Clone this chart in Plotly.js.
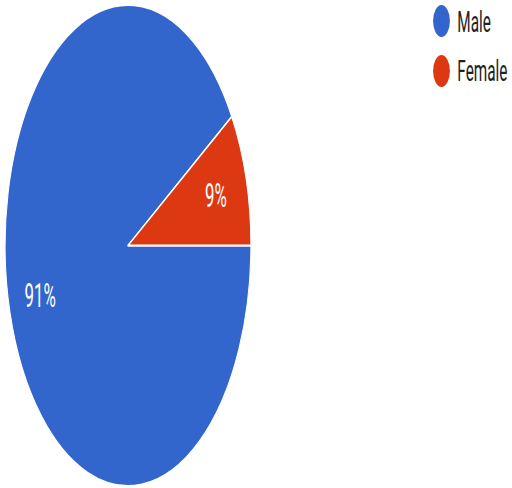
<!DOCTYPE html>
<html>
<head>
<meta charset="utf-8">
<script src="https://cdn.plot.ly/plotly-3.0.1.min.js"></script>
<style>
  html, body { margin: 0; padding: 0; background: #ffffff; overflow: hidden; }
  #chart { width: 1002px; height: 488px; transform: scaleX(0.511); transform-origin: 0 0; }
</style>
</head>
<body>
<div id="chart"></div>
<script>
const labels = ['Male', 'Female'];
const values = [91, 9];
const colors = ['#3366CC', '#DC3912'];

const W = 1002, H = 488;
const legendX = 864, legendTextX = 893;
const legendY = [21, 71];
const rotation = 90;
const cx = 250.5, cy = 245.5, R = 240.5, labelR = 0.745;

const shapes = labels.map((lab, i) => ({
  type: 'circle', xref: 'paper', yref: 'paper',
  xsizemode: 'pixel', ysizemode: 'pixel',
  xanchor: legendX / W, yanchor: 1 - legendY[i] / H,
  x0: -16.5, x1: 16.5, y0: -16, y1: 16,
  fillcolor: colors[i], line: { width: 0 }
}));

const annotations = labels.map((lab, i) => ({
  text: lab, xref: 'paper', yref: 'paper',
  x: legendTextX / W, y: 1 - legendY[i] / H,
  xanchor: 'left', yanchor: 'middle', showarrow: false,
  font: { family: 'Roboto, sans-serif', size: 30, color: '#222222' }
}));

// percentage labels placed at each slice's mid-angle
const total = values.reduce((a, b) => a + b, 0);
let acc = 0;
values.forEach((v, i) => {
  const mid = (rotation + (acc + v / 2) / total * 360) * Math.PI / 180;
  acc += v;
  const px = cx + labelR * R * Math.sin(mid);
  const py = cy - labelR * R * Math.cos(mid);
  annotations.push({
    text: Math.round(v / total * 100) + '%', xref: 'paper', yref: 'paper',
    x: px / W, y: 1 - py / H, xanchor: 'center', yanchor: 'middle', showarrow: false,
    font: { family: 'Roboto, sans-serif', size: 33, color: '#ffffff' }
  });
});

const trace = {
  type: 'pie',
  labels: labels,
  values: values,
  sort: false,
  direction: 'clockwise',
  rotation: rotation,
  marker: { colors: colors, line: { color: '#ffffff', width: 2 } },
  textinfo: 'none',
  hoverinfo: 'none',
  showlegend: false,
  domain: { x: [(cx - R) / W, (cx + R) / W], y: [1 - (cy + R) / H, 1 - (cy - R) / H] }
};

Plotly.newPlot('chart', [trace], {
  width: W, height: H,
  margin: { l: 0, r: 0, t: 0, b: 0 },
  paper_bgcolor: '#ffffff',
  showlegend: false,
  shapes: shapes,
  annotations: annotations,
  font: { family: 'Roboto, sans-serif' }
}, { displayModeBar: false, staticPlot: true });
</script>
</body>
</html>
